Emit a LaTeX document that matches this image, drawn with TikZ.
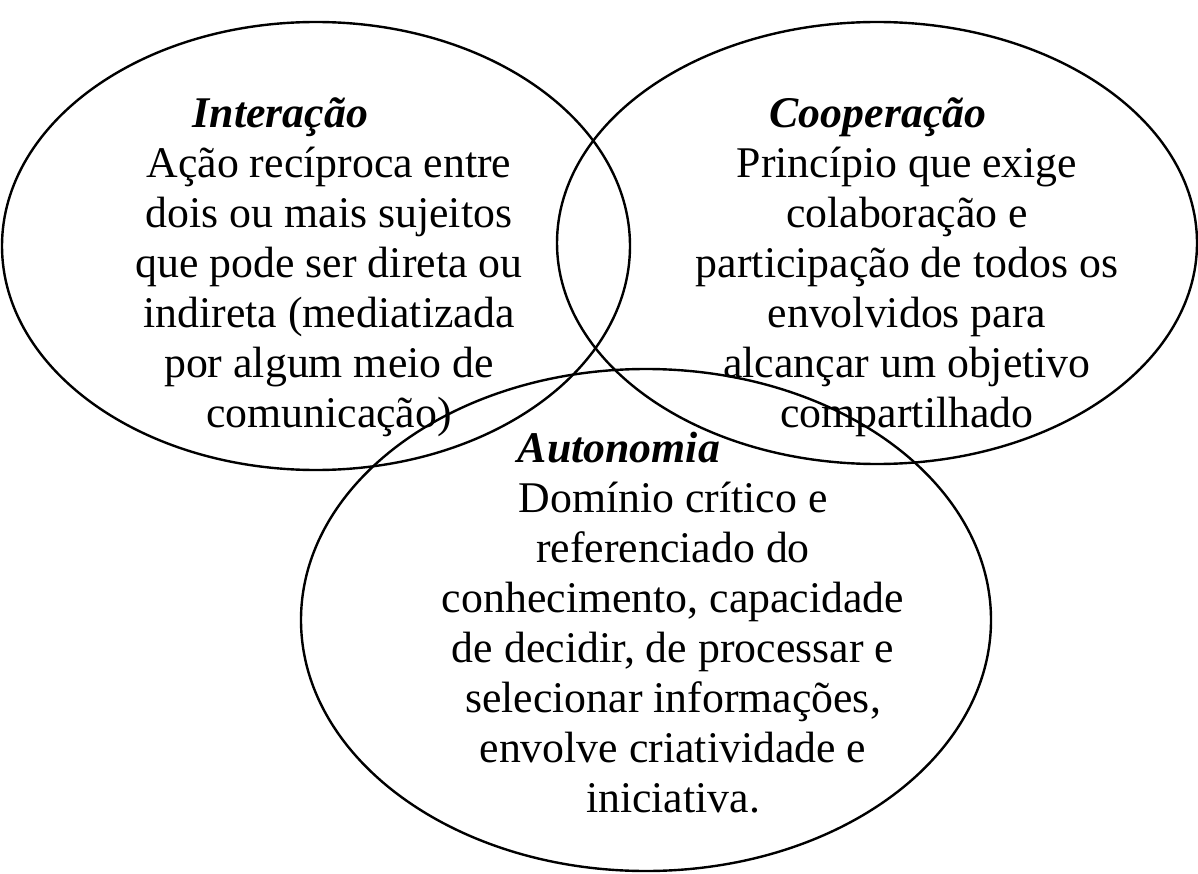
\documentclass[tikz,border=0pt]{standalone}
\usepackage{fontspec}
\setmainfont{Liberation Serif}
\newcommand\titulo[1]{\textbf{\textit{#1}}}
\begin{document}
\begin{tikzpicture}[x=1pt,y=-1pt,
    conjunto/.style={line width=2.4pt},
    texto/.style={anchor=north,align=center,inner sep=0pt,font=\fontsize{43.8}{50}\selectfont}]
    \useasboundingbox (0,0) rectangle (1198,874);
    \draw[conjunto] (316,246) ellipse [x radius=314, y radius=224];
    \draw[conjunto] (877,243) ellipse [x radius=320, y radius=221];
    \draw[conjunto] (646,620) ellipse [x radius=345, y radius=251];
    \node[texto] (interacao) at (329,92) {\strut\titulo{Interação}\hspace*{97pt}\\Ação recíproca entre\\dois ou mais sujeitos\\que pode ser direta ou\\indireta (mediatizada\\por algum meio de\\comunicação)};
    \node[texto] (cooperacao) at (907,92) {\strut\titulo{Cooperação}\hspace*{58pt}\\Princípio que exige\\colaboração e\\participação de todos os\\envolvidos para\\alcançar um objetivo\\compartilhado};
    \node[texto] (autonomia) at (673,427) {\strut\titulo{Autonomia}\hspace*{108pt}\\Domínio crítico e\\referenciado do\\conhecimento, capacidade\\de decidir, de processar e\\selecionar informações,\\envolve criatividade e\\iniciativa.};
\end{tikzpicture}
\end{document}
